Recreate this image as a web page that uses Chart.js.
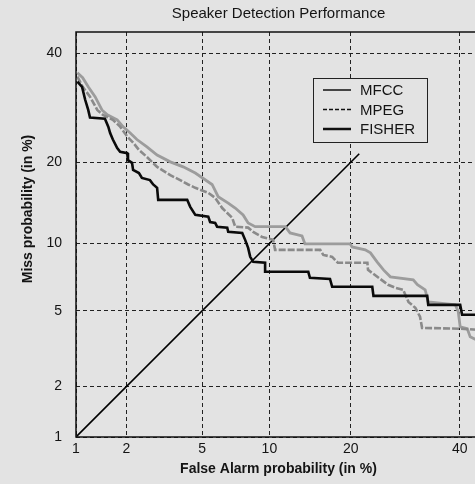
<!DOCTYPE html>
<html>
<head>
<meta charset="utf-8">
<script src="https://cdn.jsdelivr.net/npm/chart.js@4"></script>
<style>
  html, body { margin: 0; padding: 0; overflow: hidden; background: #e3e3e3; }
  #wrap { width: 490px; height: 484px; }
</style>
</head>
<body>
<div id="wrap"><canvas id="c" width="490" height="484"></canvas></div>
<script>
// ---- data (percent) ----
const TICK_VALUES = [1, 2, 5, 10, 20, 40];
const SERIES_LABELS = ['MFCC', 'MPEG', 'FISHER'];

const MFCC_FA   = [1.02,1.1,1.19,1.31,1.44,1.55,1.77,1.91,2.10,2.29,2.60,2.95,3.46,4.03,4.63,5.58,5.96,6.63,7.13,7.73,8.13,8.72,11.6,12.1,13.45,13.8,19.9,20.2,22.25,23.1,24.2,25.3,26.5,30.7,31.5,33.0,33.6,39.1,39.7,40.1,41.6,42.2,43.9];
const MFCC_MISS = [36.0,35.0,33.2,31.3,28.8,27.9,27.0,25.8,24.7,23.6,22.4,21.1,20.05,19.3,18.4,16.8,15.2,14.4,13.8,13.0,12.1,11.7,11.7,11.05,10.75,9.97,9.97,9.69,9.42,9.15,8.38,7.73,7.2,6.98,6.63,6.29,5.52,5.34,4.95,4.17,4.08,3.71,3.54];

const MPEG_FA   = [1.02,1.1,1.22,1.35,1.46,1.67,1.84,2.02,2.18,2.35,2.60,2.95,3.46,3.89,4.27,4.63,5.35,5.77,6.22,6.91,7.13,8.13,8.55,9.33,10.36,10.55,15.7,16.1,17.3,18.1,22.6,22.7,26.1,27.4,28.8,29.8,31.1,32.0,32.4,40.1,43.9];
const MPEG_MISS = [35.2,33.2,31.3,28.8,27.9,27.0,25.8,24.1,23.1,21.9,20.8,19.3,18.1,17.4,16.8,16.35,15.7,15.05,13.8,12.67,11.7,11.6,11.16,10.65,10.36,9.42,9.42,8.97,8.80,8.30,8.30,7.73,6.63,6.42,6.29,5.52,5.17,4.68,4.12,4.08,4.03];

const FISHER_FA   = [1.02,1.09,1.14,1.19,1.22,1.50,1.57,1.61,1.67,1.77,1.84,2.02,2.04,2.15,2.18,2.35,2.44,2.70,2.81,2.95,2.99,4.22,4.37,4.63,5.35,5.46,5.77,5.89,6.56,6.63,7.66,7.89,8.13,8.30,8.55,9.6,9.6,14.2,14.4,17.0,17.3,23.4,23.6,33.4,33.6,40.1,40.5,43.9];
const FISHER_MISS = [34.2,33.2,30.7,28.8,27.4,27.2,25.8,24.7,23.6,22.2,21.6,21.4,20.3,19.9,18.85,18.4,17.7,17.4,16.8,16.35,14.8,14.8,13.94,13.0,12.8,12.2,12.1,11.7,11.6,11.16,11.05,10.36,9.60,8.80,8.38,8.30,7.58,7.58,7.13,7.05,6.49,6.49,5.89,5.89,5.34,5.34,4.79,4.79];

const DIAG_FA   = [1, 21.3];
const DIAG_MISS = [1, 21.3];

const AXIS_MIN = 1, AXIS_MAX = 44.5;

// ---- normal deviate scale ----
function probit(p) {
  const a=[-3.969683028665376e+01,2.209460984245205e+02,-2.759285104469687e+02,1.383577518672690e+02,-3.066479806614716e+01,2.506628277459239e+00];
  const b=[-5.447609879822406e+01,1.615858368580409e+02,-1.556989798598866e+02,6.680131188771972e+01,-1.328068155288572e+01];
  const c=[-7.784894002430293e-03,-3.223964580411365e-01,-2.400758277161838e+00,-2.549732539343734e+00,4.374664141464968e+00,2.938163982698783e+00];
  const d=[7.784695709041462e-03,3.224671290700398e-01,2.445134137142996e+00,3.754408661907416e+00];
  const pl=0.02425, ph=1-pl; let q, r;
  if (p < pl) { q=Math.sqrt(-2*Math.log(p)); return (((((c[0]*q+c[1])*q+c[2])*q+c[3])*q+c[4])*q+c[5])/((((d[0]*q+d[1])*q+d[2])*q+d[3])*q+1); }
  if (p <= ph) { q=p-0.5; r=q*q; return (((((a[0]*r+a[1])*r+a[2])*r+a[3])*r+a[4])*r+a[5])*q/(((((b[0]*r+b[1])*r+b[2])*r+b[3])*r+b[4])*r+1); }
  q=Math.sqrt(-2*Math.log(1-p)); return -(((((c[0]*q+c[1])*q+c[2])*q+c[3])*q+c[4])*q+c[5])/((((d[0]*q+d[1])*q+d[2])*q+d[3])*q+1);
}
function normcdf(x) {
  const t = 1/(1+0.2316419*Math.abs(x));
  const y = 0.3989423*Math.exp(-x*x/2)*t*(0.3193815+t*(-0.3565638+t*(1.781478+t*(-1.821256+t*1.330274))));
  return x > 0 ? 1 - y : y;
}

class ProbitScale extends Chart.Scale {
  static id = 'probit';
  static defaults = {};
  parse(raw) { return raw == null ? null : +raw; }
  determineDataLimits() { this.min = this.options.min; this.max = this.options.max; }
  buildTicks() { return (this.options.tickValues || []).map(v => ({ value: v })); }
  configure() {
    super.configure();
    this._pMin = probit(this.min / 100);
    this._pRange = probit(this.max / 100) - this._pMin;
  }
  getLabelForValue(v) { return String(v); }
  getPixelForValue(v) {
    if (v == null || isNaN(v)) return NaN;
    return this.getPixelForDecimal((probit(v / 100) - this._pMin) / this._pRange);
  }
  getValueForPixel(px) { return 100 * normcdf(this._pMin + this.getDecimalForPixel(px) * this._pRange); }
  getPixelForTick(i) {
    const t = this.ticks;
    if (i < 0 || i > t.length - 1) return null;
    return this.getPixelForValue(t[i].value);
  }
}
Chart.register(ProbitScale);

function pts(xs, ys) { return xs.map((x, i) => ({ x: x, y: ys[i] })); }

const TEXT = '#141414';

const framePlugin = {
  id: 'frame',
  beforeDraw(chart) {
    const ctx = chart.ctx;
    ctx.save();
    ctx.fillStyle = '#e3e3e3';
    ctx.fillRect(0, 0, chart.width, chart.height);
    ctx.restore();
  },
  afterDraw(chart) {
    const ctx = chart.ctx, a = chart.chartArea;
    ctx.save();
    // plot frame
    ctx.strokeStyle = '#111';
    ctx.lineWidth = 1.5;
    ctx.strokeRect(a.left, a.top, a.right - a.left, a.bottom - a.top);
    // y axis title
    ctx.fillStyle = TEXT;
    ctx.font = 'bold 14px "Liberation Sans", Arial, sans-serif';
    ctx.textAlign = 'center';
    ctx.textBaseline = 'middle';
    ctx.translate(28, 209);
    ctx.rotate(-Math.PI / 2);
    ctx.fillText('Miss probability (in %)', 0, 0);
    ctx.restore();

    // legend box
    const bx = a.left + 237, by = a.top + 46, bw = 114, bh = 64;
    ctx.save();
    ctx.fillStyle = '#e3e3e3';
    ctx.fillRect(bx, by, bw, bh);
    ctx.strokeStyle = '#222';
    ctx.lineWidth = 1;
    ctx.strokeRect(bx + 0.5, by + 0.5, bw, bh);
    const styles = [
      { w: 1.5, dash: [] },
      { w: 1.5, dash: [4, 2] },
      { w: 2.5, dash: [] }
    ];
    ctx.font = '15px "Liberation Sans", Arial, sans-serif';
    ctx.textBaseline = 'middle';
    ctx.textAlign = 'left';
    SERIES_LABELS.forEach((lab, i) => {
      const y = by + 12 + i * 19.5;
      ctx.strokeStyle = '#111';
      ctx.lineWidth = styles[i].w;
      ctx.setLineDash(styles[i].dash);
      ctx.beginPath();
      ctx.moveTo(bx + 10, y);
      ctx.lineTo(bx + 38, y);
      ctx.stroke();
      ctx.setLineDash([]);
      ctx.fillStyle = TEXT;
      ctx.fillText(lab, bx + 47, y + 1);
    });
    ctx.restore();
  }
};

const tickFont = { family: '"Liberation Sans", Arial, sans-serif', size: 14 };

new Chart(document.getElementById('c'), {
  type: 'line',
  data: {
    datasets: [
      { label: 'FISHER', data: pts(FISHER_FA, FISHER_MISS), borderColor: '#0a0a0a', borderWidth: 2.6, pointRadius: 0, tension: 0 },
      { label: 'MPEG', data: pts(MPEG_FA, MPEG_MISS), borderColor: '#8a8a8a', borderWidth: 2.6, borderDash: [7, 2], pointRadius: 0, tension: 0 },
      { label: 'MFCC', data: pts(MFCC_FA, MFCC_MISS), borderColor: '#9c9c9c', borderWidth: 2.8, pointRadius: 0, tension: 0 },
      { label: 'diag', data: pts(DIAG_FA, DIAG_MISS), borderColor: '#000', borderWidth: 1.6, pointRadius: 0, tension: 0 }
    ]
  },
  options: {
    responsive: false,
    animation: false,
    events: [],
    layout: { padding: { left: 0, right: 9, top: 0, bottom: 0 } },
    plugins: {
      legend: { display: false },
      tooltip: { enabled: false },
      title: {
        display: true,
        text: 'Speaker Detection Performance',
        fullSize: false,
        color: TEXT,
        font: { family: '"Liberation Sans", Arial, sans-serif', size: 15, weight: 'normal', lineHeight: 1.2 },
        padding: { top: 5, bottom: 9 }
      }
    },
    scales: {
      x: {
        type: 'probit',
        min: AXIS_MIN, max: AXIS_MAX,
        tickValues: TICK_VALUES,
        afterFit(s) { s.height = 47; },
        grid: { color: '#222', lineWidth: 1, drawTicks: false },
        border: { display: false, dash: [4, 3] },
        ticks: { color: TEXT, font: tickFont, padding: 4, maxRotation: 0, autoSkip: false, callback: v => String(v) },
        title: {
          display: true,
          text: 'False Alarm probability (in %)',
          color: TEXT,
          font: { family: '"Liberation Sans", Arial, sans-serif', size: 14, weight: 'bold' },
          padding: { top: 0, bottom: 6 }
        }
      },
      y: {
        type: 'probit',
        min: AXIS_MIN, max: AXIS_MAX,
        tickValues: TICK_VALUES,
        afterFit(s) { s.width = 76; },
        grid: { color: '#222', lineWidth: 1, drawTicks: false },
        border: { display: false, dash: [4, 3] },
        ticks: { color: TEXT, font: tickFont, padding: 14, autoSkip: false, callback: v => String(v) }
      }
    }
  },
  plugins: [framePlugin]
});
</script>
</body>
</html>
